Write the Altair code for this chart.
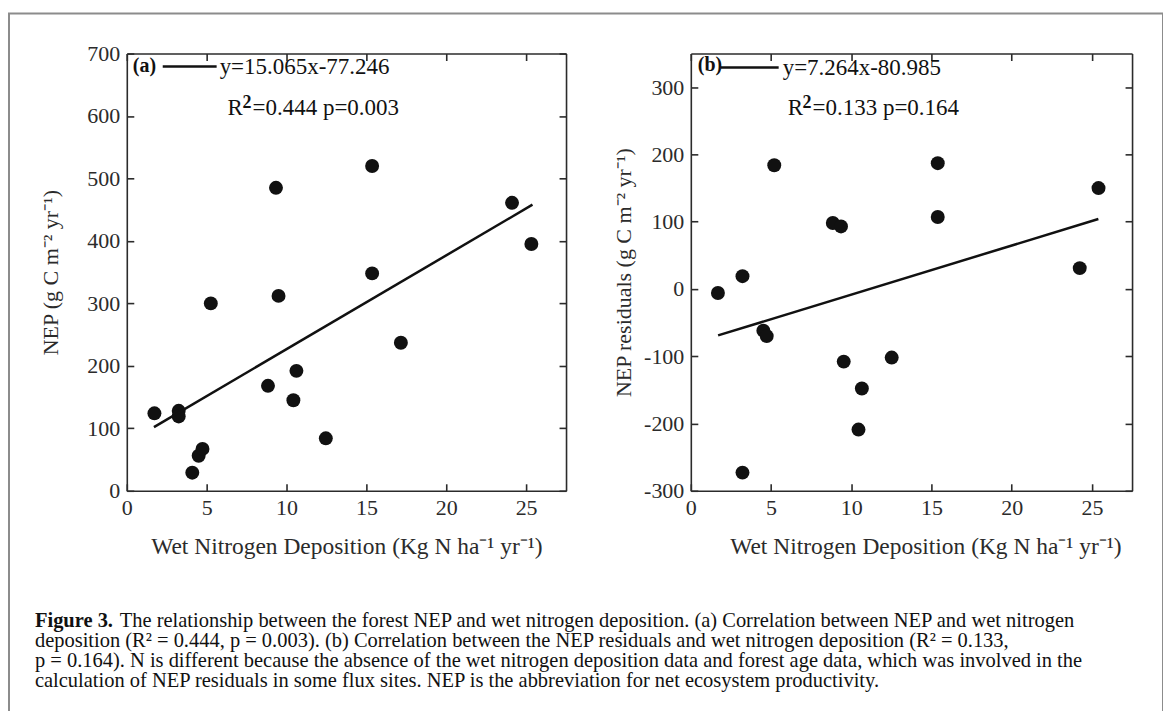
import altair as alt
import pandas as pd

# ---------------- data ----------------
x_ticks = [0, 5, 10, 15, 20, 25]
a_y_ticks = [0, 100, 200, 300, 400, 500, 600, 700]
b_y_ticks = [-300, -200, -100, 0, 100, 200, 300]

# Panel (a): NEP vs wet N deposition
a_x = [1.73, 3.25, 3.25, 4.1, 4.5, 4.74, 5.26, 8.84, 9.34, 9.5, 10.43, 10.62,
       12.46, 15.36, 15.36, 17.16, 24.12, 25.33]
a_y = [124, 128, 119, 29, 56, 67, 300, 168, 485, 312, 145, 192,
       84, 520, 348, 237, 461, 395]
a_fit_x = [1.7, 25.4]
a_fit_y = [102, 458]

# Panel (b): NEP residuals vs wet N deposition
b_x = [1.69, 3.22, 3.22, 4.52, 4.73, 5.2, 8.85, 9.36, 9.53, 10.45, 10.66,
       12.52, 15.39, 15.39, 24.24, 25.41]
b_y = [-6, 19, -273, -62, -70, 184, 98, 93, -108, -209, -148,
       -102, 187, 107, 31, 150]
b_fit_x = [1.7, 25.4]
b_fit_y = [-69, 104]

x_title = "Wet Nitrogen Deposition (Kg N ha\u207b\u00b9 yr\u207b\u00b9)"
a_y_title = "NEP (g C m\u207b\u00b2 yr\u207b\u00b9)"
b_y_title = "NEP residuals (g C m\u207b\u00b2 yr\u207b\u00b9)"

a_eq = "y=15.065x-77.246"
a_stat = "=0.444 p=0.003"
b_eq = "y=7.264x-80.985"
b_stat = "=0.133 p=0.164"

cap_bold = "Figure 3."
cap_lines = [
    "The relationship between the forest NEP and wet nitrogen deposition. (a) Correlation between NEP and wet nitrogen",
    "deposition (R\u00b2 = 0.444, p = 0.003). (b) Correlation between the NEP residuals and wet nitrogen deposition (R\u00b2 = 0.133,",
    "p = 0.164). N is different because the absence of the wet nitrogen deposition data and forest age data, which was involved in the",
    "calculation of NEP residuals in some flux sites. NEP is the abbreviation for net ecosystem productivity.",
]

# ---------------- layout ----------------
W, H = 1156, 700
FONT = "Liberation Serif"
INK = "#111111"
AX = "#2b2b2b"


def panel(px, py, fx, fy, x_rng, y_rng, y_dom, y_ticks, y_title, y_title_pad,
          x_title_shift):
    pts = pd.DataFrame({"x": px, "y": py})
    fit = pd.DataFrame({"x": fx, "y": fy})

    def xs():
        return alt.Scale(domain=[0, 27.5], range=x_rng, nice=False, zero=False)

    def ys():
        return alt.Scale(domain=y_dom, range=y_rng, nice=False, zero=False)

    x_lab = alt.Axis(orient="bottom", offset=y_rng[0] - H, values=x_ticks,
                     ticks=False, domain=False, labelPadding=7, grid=False,
                     title=x_title, titlePadding=16, titleFontSize=23.5,
                     titleX=(x_rng[0] + x_rng[1]) / 2 + x_title_shift)
    y_lab = alt.Axis(orient="left", offset=-x_rng[0], values=y_ticks,
                     ticks=False, domain=False, labelPadding=7, grid=False,
                     labelExpr="datum.value + ''",
                     title=y_title, titlePadding=y_title_pad)
    x_bot = alt.Axis(orient="top", offset=-y_rng[0], values=x_ticks,
                     labels=False, grid=False, title=None)
    y_left = alt.Axis(orient="right", offset=x_rng[0] - W, values=y_ticks,
                      labels=False, grid=False, title=None)
    x_top = alt.Axis(orient="bottom", offset=y_rng[1] - H, values=x_ticks,
                     labels=False, grid=False, title=None)
    y_right = alt.Axis(orient="left", offset=-x_rng[1], values=y_ticks,
                       labels=False, grid=False, title=None)

    dots = alt.Chart(pts).mark_circle(size=195, color=INK, opacity=1).encode(
        x=alt.X("x:Q", scale=xs(), axis=x_lab),
        y=alt.Y("y:Q", scale=ys(), axis=y_lab),
    )
    line = alt.Chart(fit).mark_line(color=INK, strokeWidth=2.5).encode(
        x=alt.X("x:Q", scale=xs(), axis=x_bot),
        y=alt.Y("y:Q", scale=ys(), axis=y_left),
    )
    box = alt.Chart(fit).mark_line(opacity=0).encode(
        x=alt.X("x:Q", scale=xs(), axis=x_top),
        y=alt.Y("y:Q", scale=ys(), axis=y_right),
    )
    return [dots, line, box]


def label(s, x, y, size=23, weight="normal", color=INK):
    return alt.Chart(pd.DataFrame({"t": [s]})).mark_text(
        align="left", baseline="middle", font=FONT, fontSize=size,
        fontWeight=weight, color=color,
    ).encode(x=alt.value(x), y=alt.value(y), text="t:N")


def seg(x1, x2, y):
    return alt.Chart(pd.DataFrame({"t": [0]})).mark_rule(
        color=INK, strokeWidth=2.5).encode(
        x=alt.value(x1), x2=alt.value(x2), y=alt.value(y))


def stat(rest, x, y):
    return [
        label("R", x, y),
        label("2", x + 15, y - 5, size=18, weight="bold"),
        label(rest, x + 25, y),
    ]


layers = []
layers += panel(a_x, a_y, a_fit_x, a_fit_y, [118, 558], [478, 40], [0, 700],
                a_y_ticks, a_y_title, 24, 0)
layers += panel(b_x, b_y, b_fit_x, b_fit_y, [683, 1125], [478, 40], [-300, 350],
                b_y_ticks, b_y_title, 8, 14)

# in-panel legends (view coordinates)
layers += [
    label("(a)", 124, 53, size=20, weight="bold"),
    seg(154, 208, 53),
    label(a_eq, 211, 54),
]
layers += stat(a_stat, 219, 95)
layers += [
    label("(b)", 690, 51, size=20, weight="bold"),
    seg(713, 771, 54),
    label(b_eq, 775, 55),
]
layers += stat(b_stat, 780, 95)

# caption
cap_x = 26
cap_size = 20.5
cap_y = [608, 628, 649, 669]
layers.append(label(cap_bold, cap_x, cap_y[0], size=cap_size, weight="bold", color="#111"))
layers.append(label(cap_lines[0], cap_x + 85, cap_y[0], size=cap_size, color="#111"))
for i in range(1, 4):
    layers.append(label(cap_lines[i], cap_x, cap_y[i], size=cap_size, color="#111"))

chart = alt.layer(*layers).resolve_scale(
    x="independent", y="independent"
).resolve_axis(
    x="independent", y="independent"
).properties(
    width=W, height=H,
    background="white",
    autosize=alt.AutoSizeParams(type="none"),
    padding={"left": 1, "top": 5, "right": 0, "bottom": 0},
).configure_view(
    stroke="#8c8c8c", strokeWidth=2
).configure_axis(
    labelFont=FONT, labelFontSize=22, labelColor=AX,
    titleFont=FONT, titleFontSize=22, titleColor=AX, titleFontWeight="normal",
    domainColor=AX, domainWidth=1.6, tickColor=AX, tickWidth=1.6, tickSize=7,
    labelFlush=False, labelOverlap=False,
)

chart.save("out.html", embed_options={"renderer": "svg", "actions": False})
